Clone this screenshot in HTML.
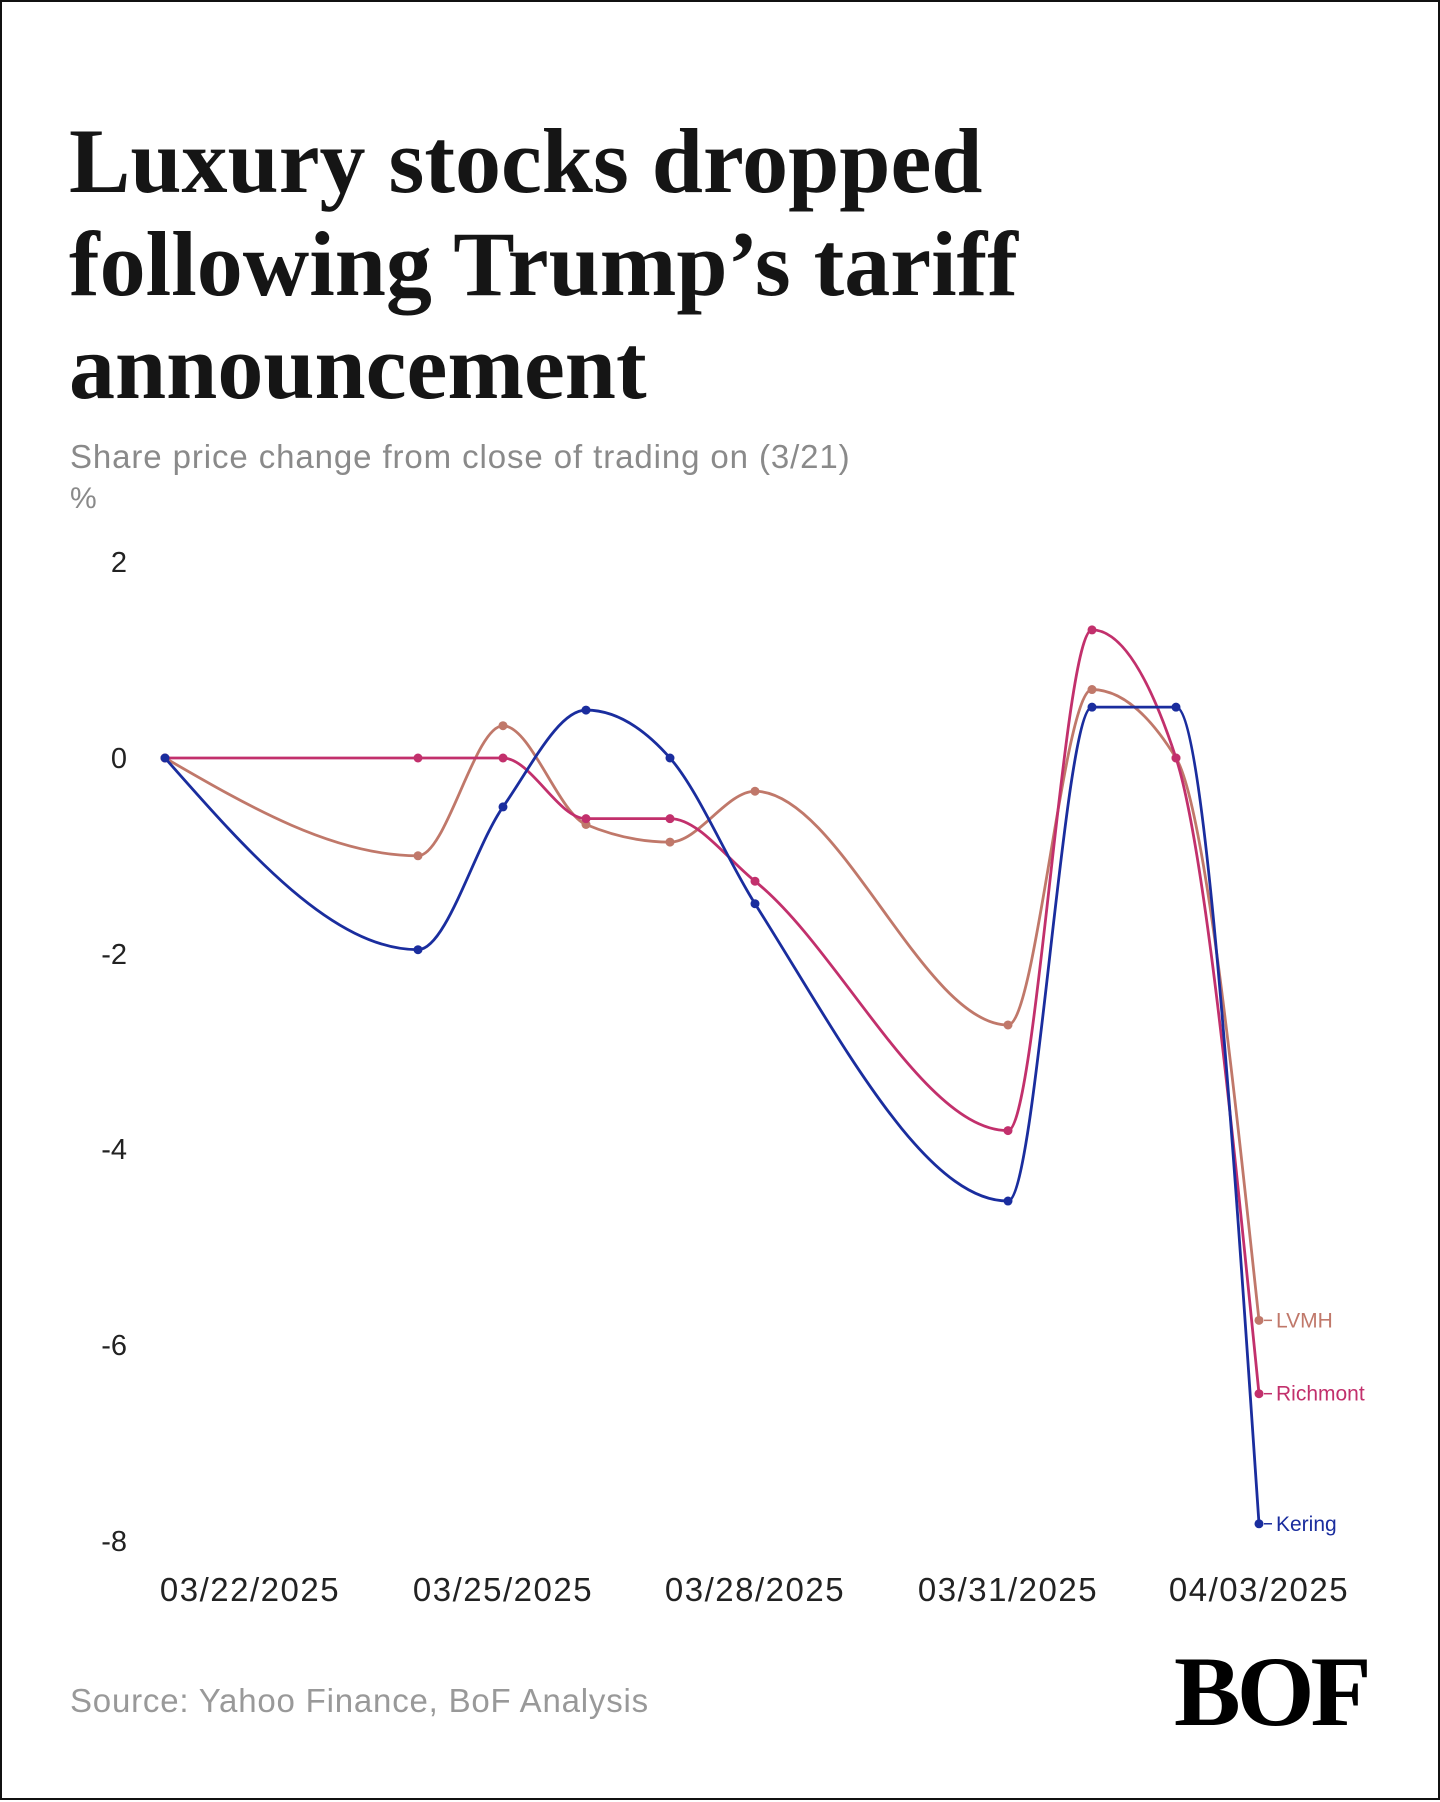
<!DOCTYPE html>
<html><head><meta charset="utf-8"><style>
html,body{margin:0;padding:0;background:#fff}
body{width:1440px;height:1800px;position:relative;overflow:hidden;box-sizing:border-box;border:2px solid #111}
.t{position:absolute;left:67px;font-family:"Liberation Serif",serif;font-weight:bold;font-size:92px;color:#151515;letter-spacing:0px;line-height:1;white-space:nowrap}
.s{position:absolute;font-family:"Liberation Sans",sans-serif;color:#8a8a8a;white-space:nowrap}
svg{position:absolute;left:0;top:0}
</style></head><body>
<div class="t" style="top:113px">Luxury stocks dropped</div>
<div class="t" style="top:216px">following Trump’s tariff</div>
<div class="t" style="top:319px">announcement</div>
<div class="s" style="left:68px;top:436px;font-size:33px;letter-spacing:0.9px">Share price change from close of trading on (3/21)</div>
<div class="s" style="left:68px;top:480px;font-size:30px">%</div>
<div class="s" style="left:68px;top:1680px;font-size:33px;letter-spacing:0.8px;color:#999">Source: Yahoo Finance, BoF Analysis</div>
<div style="position:absolute;left:1172px;top:1640px;font-family:'Liberation Serif',serif;font-weight:bold;font-size:100px;color:#000;letter-spacing:-4px;line-height:1">BOF</div>
<svg id="c" width="1440" height="1800" xmlns="http://www.w3.org/2000/svg" font-family="Liberation Sans, sans-serif">
<g font-size="29" fill="#222" text-anchor="end">
<text x="125" y="570">2</text><text x="125" y="766">0</text><text x="125" y="962">-2</text>
<text x="125" y="1157">-4</text><text x="125" y="1353">-6</text><text x="125" y="1549">-8</text>
</g>
<g font-size="33" fill="#222" text-anchor="middle" letter-spacing="1.5">
<text x="248" y="1599">03/22/2025</text><text x="501" y="1599">03/25/2025</text>
<text x="753" y="1599">03/28/2025</text><text x="1006" y="1599">03/31/2025</text>
<text x="1257" y="1599">04/03/2025</text>
</g>
</svg>
<script>
var X=[163,416,501,584,668,753,1006,1090,1174,1257];
function Y(v){return 756-v*97.8;}
var S=[
["LVMH","#c0786a",[0,-1.0,0.33,-0.68,-0.86,-0.34,-2.73,0.7,0,-5.75]],
["Richmont","#c2306c",[0,0,0,-0.62,-0.62,-1.26,-3.81,1.31,0,-6.5]],
["Kering","#1a2d9e",[0,-1.96,-0.5,0.49,0,-1.49,-4.53,0.52,0.52,-7.83]]];
function mono(xs,ys){var n=xs.length,d=[],m=[];for(var i=0;i<n-1;i++)d.push((ys[i+1]-ys[i])/(xs[i+1]-xs[i]));
for(i=0;i<n;i++){if(i==0)m.push(d[0]);else if(i==n-1)m.push(d[n-2]);else{if(d[i-1]*d[i]<=0)m.push(0);else{var h0=xs[i]-xs[i-1],h1=xs[i+1]-xs[i];var p=(d[i-1]*h1+d[i]*h0)/(h0+h1);var s=(d[i-1]>0?1:-1);m.push(s*Math.min(Math.abs(p),2*Math.abs(d[i-1]),2*Math.abs(d[i])));}}}
m[0]=(3*d[0]-m[1])/2;m[n-1]=(3*d[n-2]-m[n-2])/2;
var p="M"+xs[0]+","+ys[0];for(i=0;i<n-1;i++){var h=(xs[i+1]-xs[i])/3;p+="C"+(xs[i]+h)+","+(ys[i]+m[i]*h)+" "+(xs[i+1]-h)+","+(ys[i+1]-m[i+1]*h)+" "+xs[i+1]+","+ys[i+1];}return p;}
var svg=document.getElementById("c"),out="";
S.forEach(function(s){var ys=s[2].map(Y);out+='<path d="'+mono(X,ys)+'" fill="none" stroke="'+s[1]+'" stroke-width="2.8"/>';
ys.forEach(function(y,i){out+='<circle cx="'+X[i]+'" cy="'+y+'" r="4.5" fill="'+s[1]+'"/>';});
var ly=ys[9];out+='<line x1="1262" x2="1270" y1="'+ly+'" y2="'+ly+'" stroke="'+s[1]+'" stroke-width="1.5"/><text x="1274" y="'+(ly+7)+'" font-size="21" fill="'+s[1]+'">'+s[0]+'</text>';});
svg.insertAdjacentHTML("beforeend",out);
</script>
</body></html>
